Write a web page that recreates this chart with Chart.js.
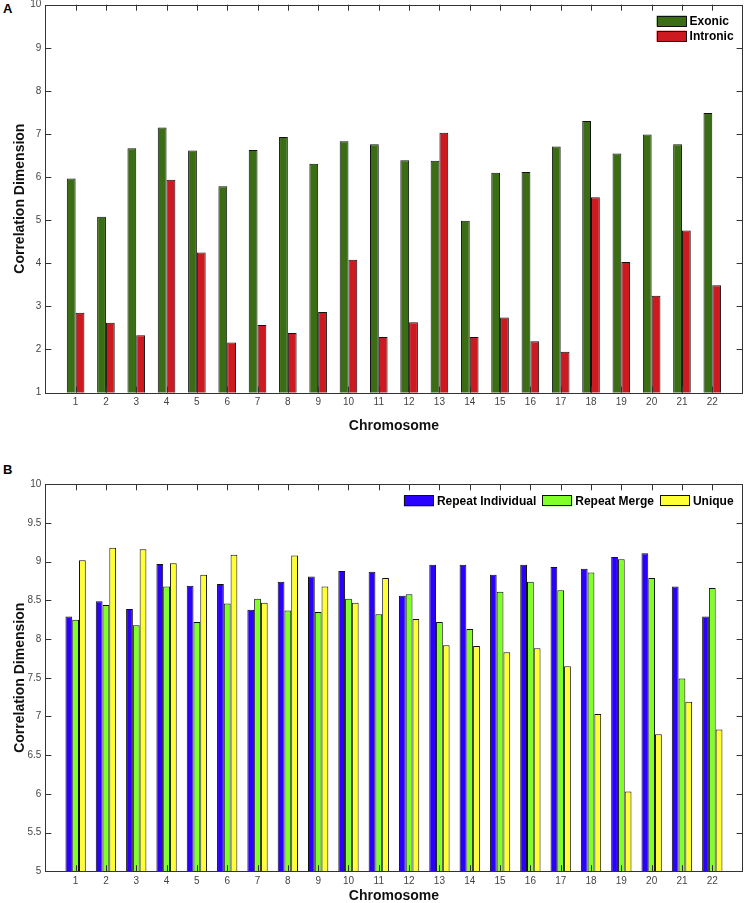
<!DOCTYPE html>
<html>
<head>
<meta charset="utf-8">
<title>Correlation Dimension by Chromosome</title>
<script src="https://cdn.jsdelivr.net/npm/chart.js@4.4.1/dist/chart.umd.min.js"></script>
<style>
  html, body { margin: 0; padding: 0; background: #fff; overflow: hidden; }
  body { width: 747px; height: 903px; position: relative; font-family: "Liberation Sans", Arial, sans-serif; }
  canvas { position: absolute; left: 0; }
  #chart-a { top: -10px; }
  #chart-b { top: 460px; }
  .panel-letter { position: absolute; left: 3px; font-weight: bold; font-size: 13px; line-height: 1; color: #000; }
</style>
</head>
<body>
<div class="panel-letter" style="top:1.6px">A</div>
<canvas id="chart-a" width="747" height="447"></canvas>
<div class="panel-letter" style="top:463.3px">B</div>
<canvas id="chart-b" width="747" height="447"></canvas>
<script>
// chromosome numbers on the x axis
const chromosomes = ["1", "2", "3", "4", "5", "6", "7", "8", "9", "10", "11",
  "12", "13", "14", "15", "16", "17", "18", "19", "20", "21", "22"];

// panel A
const exonic = [5.97, 5.08, 6.67, 7.15, 6.62, 5.79, 6.63, 6.93, 6.31, 6.83, 6.76,
  6.39, 6.38, 4.99, 6.10, 6.12, 6.71, 7.30, 6.55, 6.99, 6.76, 7.49];
const intronic = [2.85, 2.62, 2.33, 5.94, 4.25, 2.16, 2.57, 2.38, 2.87, 4.08, 2.29,
  2.63, 7.03, 2.29, 2.74, 2.19, 1.95, 5.53, 4.03, 3.25, 4.76, 3.49];
const yTicksA = [1, 2, 3, 4, 5, 6, 7, 8, 9, 10];

// panel B
const repeatIndividual = [8.29, 8.49, 8.39, 8.97, 8.69, 8.71, 8.38, 8.74, 8.81, 8.88, 8.87,
  8.56, 8.96, 8.96, 8.83, 8.96, 8.93, 8.91, 9.06, 9.11, 8.68, 8.29];
const repeatMerge = [8.25, 8.44, 8.18, 8.68, 8.22, 8.46, 8.52, 8.37, 8.35, 8.52, 8.32,
  8.58, 8.22, 8.13, 8.61, 8.74, 8.63, 8.86, 9.03, 8.79, 7.49, 8.66];
const unique = [9.02, 9.18, 9.16, 8.98, 8.83, 9.09, 8.47, 9.08, 8.68, 8.47, 8.79,
  8.26, 7.92, 7.91, 7.83, 7.88, 7.65, 7.03, 6.03, 6.77, 7.19, 6.83];
const yTicksB = [5, 5.5, 6, 6.5, 7, 7.5, 8, 8.5, 9, 9.5, 10];

const FONT = "'Liberation Sans', Arial, Helvetica, sans-serif";

// MATLAB-like frame with inward ticks on all four sides
const boxPlugin = {
  id: "matlabBox",
  afterDatasetsDraw(chart, args, opts) {
    const { ctx, chartArea: a, scales: { x, y } } = chart;
    const len = opts.tickLength;
    ctx.save();
    ctx.strokeStyle = opts.color;
    ctx.lineWidth = 1;
    ctx.beginPath();
    x.ticks.forEach((t, i) => {
      if (!t.label) return;
      const px = Math.round(x.getPixelForTick(i)) + 0.5;
      ctx.moveTo(px, a.bottom); ctx.lineTo(px, a.bottom - len);
      ctx.moveTo(px, a.top); ctx.lineTo(px, a.top + len);
    });
    y.ticks.forEach((t, i) => {
      const py = Math.round(y.getPixelForTick(i)) + 0.5;
      ctx.moveTo(a.left, py); ctx.lineTo(a.left + len, py);
      ctx.moveTo(a.right, py); ctx.lineTo(a.right - len, py);
    });
    ctx.stroke();
    ctx.strokeRect(Math.round(a.left) + 0.5, Math.round(a.top) + 0.5,
      Math.round(a.right - a.left), Math.round(a.bottom - a.top));
    ctx.restore();
  }
};

// legend drawn inside the plot, top right
const insideLegend = {
  id: "insideLegend",
  afterDraw(chart, args, opts) {
    const { ctx, chartArea: a } = chart;
    const sets = chart.data.datasets;
    ctx.save();
    ctx.font = `bold 12px ${FONT}`;
    ctx.textBaseline = "middle";
    ctx.textAlign = "left";
    const widths = sets.map((d) => ctx.measureText(d.label).width);
    const bw = 30, bh = 11, gap = 3, itemGap = 6, rowStep = 15;
    const right = a.right - 9;
    let spots;
    if (opts.vertical) {
      const left = right - Math.max(...widths) - gap - bw;
      spots = sets.map((d, i) => ({ x: left, y: a.top + opts.top + i * rowStep }));
    } else {
      const total = widths.reduce((s, w) => s + bw + gap + w, 0) + itemGap * (sets.length - 1);
      let x = right - total;
      spots = sets.map((d, i) => {
        const s = { x, y: a.top + opts.top };
        x += bw + gap + widths[i] + itemGap;
        return s;
      });
    }
    sets.forEach((d, i) => {
      const { x, y } = spots[i];
      ctx.fillStyle = d.backgroundColor;
      ctx.fillRect(x, y, bw, bh);
      ctx.strokeStyle = "#111";
      ctx.lineWidth = 1;
      ctx.strokeRect(Math.round(x) + 0.5, Math.round(y) + 0.5, bw - 1, bh - 1);
      ctx.fillStyle = "#000";
      ctx.fillText(d.label, x + bw + gap, y + bh / 2 + 0.5);
    });
    ctx.restore();
  }
};

function drawPanel(id, series, yTicks, cfg) {
  const datasets = series.map((s) => ({
    label: s.label,
    data: [null, ...s.data, null],
    backgroundColor: s.color,
    borderColor: "#111",
    borderWidth: 1,
    borderSkipped: "start",
    categoryPercentage: cfg.groupWidth,
    barPercentage: 1,
  }));
  return new Chart(document.getElementById(id), {
    type: "bar",
    data: { labels: ["", ...chromosomes, ""], datasets },
    options: {
      responsive: false,
      animation: false,
      devicePixelRatio: 1,
      layout: { padding: { top: cfg.padTop, right: 4.4, left: 0, bottom: 0 } },
      plugins: {
        legend: { display: false },
        tooltip: { enabled: false },
        insideLegend: { vertical: cfg.vertical, top: 11 },
        matlabBox: { tickLength: 6, color: "#333" },
      },
      scales: {
        x: {
          offset: false,
          grid: { display: false, drawTicks: false },
          border: { display: false },
          ticks: { autoSkip: false, maxRotation: 0, padding: 4, color: "#444",
            font: { family: FONT, size: 10 } },
          title: { display: true, text: "Chromosome", color: "#111",
            font: { family: FONT, size: 14, weight: "bold" }, padding: { top: 0, bottom: 2 } },
          afterFit: (s) => { s.height = cfg.xHeight; },
        },
        y: {
          min: yTicks[0],
          max: yTicks[yTicks.length - 1],
          grid: { display: false, drawTicks: false },
          border: { display: false },
          afterBuildTicks: (s) => { s.ticks = yTicks.map((v) => ({ value: v })); },
          ticks: { padding: 4, color: "#444", font: { family: FONT, size: 10 },
            callback: (v) => String(v) },
          title: { display: true, text: "Correlation Dimension", color: "#111",
            font: { family: FONT, size: 14, weight: "bold" }, padding: { top: 11.6, bottom: 0 } },
          afterFit: (s) => { s.width = 45.3; },
        },
      },
    },
    plugins: [boxPlugin, insideLegend],
  });
}

drawPanel("chart-a", [
  { label: "Exonic", data: exonic, color: "#3b6e14" },
  { label: "Intronic", data: intronic, color: "#cc1a20" },
], yTicksA, { groupWidth: 0.58, padTop: 14.7, xHeight: 44.4, vertical: true });

drawPanel("chart-b", [
  { label: "Repeat Individual", data: repeatIndividual, color: "#2a00ff" },
  { label: "Repeat Merge", data: repeatMerge, color: "#80ff28" },
  { label: "Unique", data: unique, color: "#ffff33" },
], yTicksB, { groupWidth: 0.67, padTop: 24.3, xHeight: 35.8, vertical: false });
</script>
</body>
</html>
